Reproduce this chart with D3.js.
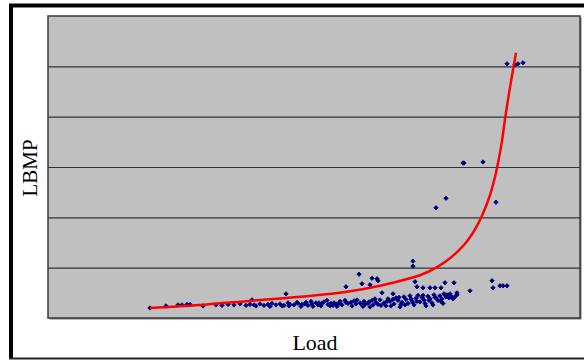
<!DOCTYPE html>
<html>
<head>
<meta charset="utf-8">
<script src="https://cdn.jsdelivr.net/npm/d3@7"></script>
<style>
  body { margin: 0; background: #fff; }
  svg { display: block; }
</style>
</head>
<body>
<div id="chart"></div>
<script>
// load (MW) and LBMP ($/MWh) observations
var loadObs = [15100, 15900, 16500, 16700, 16950, 17100, 17750,
    18400, 18700, 19000, 19300, 19600, 19900, 20100, 20300, 20600, 20800, 21000, 21200, 21400, 21600, 21800, 22000, 22100, 22300, 22500, 22700, 22900, 23000, 23200, 23400, 23500, 23700, 23800, 24000, 24100, 24300, 24400, 24600, 24700, 24900, 25000, 25200, 25300, 25400, 25600, 25700, 25800, 26000, 26100, 26200, 26400, 26500, 26600, 26800, 26900, 27000, 27100, 27300, 27400, 27500, 27600, 27700, 27800, 27900, 28000, 28100, 28200, 28300, 28400, 28500, 28600, 28700, 28800, 28900, 29000, 29100, 29200, 29300, 29400, 29500, 29600, 29700, 29800, 29900,
    22050, 22450, 22850, 23150, 23550, 23950, 24250, 24550, 24850, 25150, 25450, 25750, 26050, 26350, 26650, 26950, 27250, 27550, 27850, 28150, 28450, 28750, 29050, 29350, 29650, 29950, 30050, 30150, 24150, 24450, 23650, 23250, 22650, 21700, 21100, 20400, 25850, 26250, 27150, 27650, 28250, 28850, 29250, 29750, 30250, 30350, 30450,
    21900, 20200, 24900, 25550, 25700, 26100, 26200, 26450, 26500, 26700, 27250, 28250, 28250, 28350, 28450, 28750, 29100, 29350, 29650, 29850, 30300, 30450, 30100, 31100, 32200, 32250, 32600, 32750, 32950,
    29400, 29900, 30750, 30800, 31750, 32400, 32950, 33350, 33500, 33750];
var lbmpObs = [20, 24, 26, 26, 27, 27, 24,
    26, 25, 27, 26, 28, 25, 27, 26, 28, 25, 27, 29, 26, 28, 25, 30, 27, 26, 29, 27, 31, 25, 28, 30, 26, 29, 32, 27, 24, 30, 28, 33, 26, 31, 29, 24, 34, 28, 30, 26, 33, 29, 22, 35, 31, 27, 36, 30, 24, 38, 33, 28, 40, 35, 22, 31, 42, 37, 29, 44, 34, 26, 39, 45, 32, 41, 36, 24, 43, 38, 30, 46, 40, 35, 44, 38, 48, 42,
    24, 31, 28, 33, 30, 35, 25, 29, 35, 31, 36, 23, 32, 38, 25, 33, 37, 41, 26, 38, 33, 45, 35, 41, 33, 46, 40, 44, 29, 23, 24, 23, 23, 24, 23, 24, 27, 26, 24, 27, 30, 29, 26, 29, 38, 42, 46,
    48, 36, 62, 87, 68, 66, 79, 78, 74, 50, 48, 113, 103, 72, 62, 60, 60, 60, 60, 70, 70, 50, 48, 54, 74, 60, 64, 64, 64,
    219, 238, 308, 308, 310, 230, 505, 503, 505, 507];

// fitted supply curve
var fitLoad = [15100, 17600, 20100, 22600, 24950, 26600, 28100, 28600, 29450, 29950, 30450, 30750, 31000, 31450, 31700, 32100, 32350, 32450, 32700, 32850, 33150, 33400];
var fitLbmp = [20, 26, 34, 42, 52, 64, 79, 85, 101, 114, 131, 143, 155, 183, 203, 244, 280, 298, 352, 395, 470, 527];

var yTicks = [0, 100, 200, 300, 400, 500, 600];

var margin = {top: 16, right: 4, bottom: 42, left: 48},
    width = 584 - margin.left - margin.right,
    height = 360 - margin.top - margin.bottom;

var svg = d3.select("#chart")
    .append("svg")
    .attr("width", 584)
    .attr("height", 360);

// outer frame
svg.append("line").attr("x1", 9).attr("x2", 584).attr("y1", 5.5).attr("y2", 5.5)
    .attr("stroke", "#000").attr("stroke-width", 4);
svg.append("line").attr("x1", 11).attr("x2", 11).attr("y1", 4).attr("y2", 359)
    .attr("stroke", "#000").attr("stroke-width", 4);
svg.append("line").attr("x1", 9).attr("x2", 584).attr("y1", 358.5).attr("y2", 358.5)
    .attr("stroke", "#222").attr("stroke-width", 2);

var g = svg.append("g")
    .attr("transform", "translate(" + margin.left + "," + margin.top + ")");

var x = d3.scaleLinear()
    .domain([10000, 36600])
    .range([0, width]);

var y = d3.scaleLinear()
    .domain([0, 600])
    .range([height, 0]);

// plot area + shadow
g.append("rect")
    .attr("x", 1.5).attr("y", 1.5)
    .attr("width", width).attr("height", height)
    .attr("fill", "#777");
g.append("rect")
    .attr("width", width).attr("height", height)
    .attr("fill", "#c0c0c0")
    .attr("stroke", "#3a3a3a")
    .attr("stroke-width", 1.5);

// gridlines
g.append("g")
    .call(d3.axisLeft(y).tickValues(yTicks.slice(1, -1)).tickSize(-width).tickFormat(""))
    .call(function(a) {
        a.select(".domain").remove();
        a.selectAll("line").attr("stroke", "#333").attr("stroke-width", 1.2);
    });

// scatter points
var pts = loadObs.map(function(d, i) { return [d, lbmpObs[i]]; });
g.selectAll("mydot")
    .data(pts)
    .enter()
    .append("path")
    .attr("d", d3.symbol().type(d3.symbolDiamond2).size(12))
    .attr("transform", function(d) {
        return "translate(" + x(d[0]) + "," + y(d[1]) + ")";
    })
    .attr("fill", "#000080")
    .attr("stroke", "#000080")
    .attr("stroke-width", 0.9);

// fitted line
var fit = fitLoad.map(function(d, i) { return [d, fitLbmp[i]]; });
g.append("path")
    .datum(fit)
    .attr("fill", "none")
    .attr("stroke", "#ff0000")
    .attr("stroke-width", 2.5)
    .attr("d", d3.line()
        .curve(d3.curveMonotoneX)
        .x(function(d) { return x(d[0]); })
        .y(function(d) { return y(d[1]); }));

// axis titles
svg.append("text")
    .attr("x", 315)
    .attr("y", 350)
    .attr("text-anchor", "middle")
    .style("font-family", "'Liberation Serif', 'Times New Roman', serif")
    .style("font-size", "22px")
    .text("Load");

svg.append("text")
    .attr("transform", "translate(37,168)rotate(-90)")
    .attr("text-anchor", "middle")
    .style("font-family", "'Liberation Serif', 'Times New Roman', serif")
    .style("font-size", "21px")
    .text("LBMP");
</script>
</body>
</html>
